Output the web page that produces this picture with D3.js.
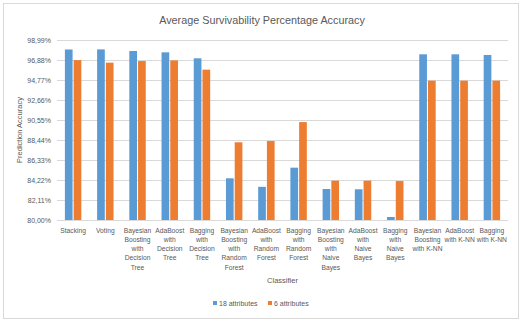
<!DOCTYPE html>
<html>
<head>
<meta charset="UTF-8">
<script src="https://d3js.org/d3.v7.min.js"></script>
<style>
  body { margin: 0; background: #fff; font-family: "Liberation Sans", Arial, sans-serif; }
  svg text { fill: #595959; }
</style>
</head>
<body>
<div id="chart"></div>
<script>
const categories = [
  ["Stacking"],
  ["Voting"],
  ["Bayesian", "Boosting", "with", "Decision", "Tree"],
  ["AdaBoost", "with", "Decision", "Tree"],
  ["Bagging", "with", "Decision", "Tree"],
  ["Bayesian", "Boosting", "with", "Random", "Forest"],
  ["AdaBoost", "with", "Random", "Forest"],
  ["Bagging", "with", "Random", "Forest"],
  ["Bayesian", "Boosting", "with", "Naive", "Bayes"],
  ["AdaBoost", "with", "Naive", "Bayes"],
  ["Bagging", "with", "Naive", "Bayes"],
  ["Bayesian", "Boosting", "with K-NN"],
  ["AdaBoost", "with K-NN"],
  ["Bagging", "with K-NN"]
];
const attr18 = [97.99, 98.0, 97.83, 97.69, 97.06, 84.40, 83.50, 85.52, 83.27, 83.24, 80.32, 97.48, 97.48, 97.41];
const attr6  = [96.87, 96.60, 96.77, 96.84, 95.86, 88.20, 88.33, 90.33, 84.15, 84.15, 84.11, 94.70, 94.70, 94.70];
const yTicks = [80.00, 82.11, 84.22, 86.33, 88.44, 90.55, 92.66, 94.77, 96.88, 98.99];
const seriesNames = ["18 attributes", "6 attributes"];
const colors = ["#5B9BD5", "#ED7D31"];

const width = 524, height = 322;
const margin = { top: 40, right: 16, bottom: 102, left: 57 };

const svg = d3.select("#chart").append("svg")
  .attr("width", width).attr("height", height);

// outer chart border
svg.append("rect")
  .attr("x", 3.5).attr("y", 3.5)
  .attr("width", 515).attr("height", 315)
  .attr("fill", "#fff").attr("stroke", "#d9d9d9");

const x = d3.scaleBand()
  .domain(d3.range(categories.length))
  .range([margin.left, width - margin.right])
  .paddingInner(0.49).paddingOuter(0.245);

const x1 = d3.scaleBand()
  .domain([0, 1])
  .range([0, x.bandwidth()])
  .paddingInner(0.12);

const y = d3.scaleLinear()
  .domain([80, 98.99])
  .range([height - margin.bottom, margin.top]);

const fmt = v => v.toFixed(2).replace(".", ",") + "%";

// gridlines
svg.append("g")
  .selectAll("line")
  .data(yTicks)
  .join("line")
  .attr("x1", margin.left).attr("x2", width - margin.right)
  .attr("y1", d => Math.round(y(d)) + 0.5).attr("y2", d => Math.round(y(d)) + 0.5)
  .attr("stroke", "#d9d9d9").attr("stroke-width", 1);

// y axis labels
const yAxis = svg.append("g")
  .attr("transform", `translate(${margin.left - 6},0)`)
  .call(d3.axisLeft(y).tickValues(yTicks).tickFormat(fmt).tickSize(0).tickPadding(0));
yAxis.select(".domain").remove();
yAxis.selectAll("text")
  .attr("font-size", 7)
  .attr("font-family", "'Liberation Sans', Arial, sans-serif")
  .style("fill", "#595959");

// bars
const groups = svg.append("g")
  .selectAll("g")
  .data(categories.map((c, i) => [attr18[i], attr6[i]]))
  .join("g")
  .attr("transform", (d, i) => `translate(${x(i)},0)`);

groups.selectAll("rect")
  .data(d => d)
  .join("rect")
  .attr("x", (d, j) => x1(j))
  .attr("width", x1.bandwidth())
  .attr("y", d => y(d))
  .attr("height", d => y(80) - y(d))
  .attr("fill", (d, j) => colors[j]);

// category labels
const catG = svg.append("g")
  .selectAll("text")
  .data(categories)
  .join("text")
  .attr("text-anchor", "middle")
  .attr("font-size", 6.7)
  .attr("x", (d, i) => x(i) + x.bandwidth() / 2)
  .attr("y", height - margin.bottom + 12.5);
catG.selectAll("tspan")
  .data(d => d)
  .join("tspan")
  .attr("x", function () { return this.parentNode.getAttribute("x"); })
  .attr("dy", (d, i) => i === 0 ? 0 : 9.33)
  .text(d => d);

// title
svg.append("text")
  .attr("x", 262).attr("y", 24)
  .attr("text-anchor", "middle")
  .attr("font-size", 10.8)
  .text("Average Survivability Percentage Accuracy");

// axis titles
svg.append("text")
  .attr("x", (margin.left + width - margin.right) / 2).attr("y", 283)
  .attr("text-anchor", "middle")
  .attr("font-size", 7.5)
  .text("Classifier");

svg.append("text")
  .attr("transform", `translate(22,${(margin.top + height - margin.bottom) / 2}) rotate(-90)`)
  .attr("text-anchor", "middle")
  .attr("font-size", 7.5)
  .text("Prediction Accuracy");

// legend
const legendX = [213, 268];
const legend = svg.append("g")
  .selectAll("g")
  .data(seriesNames)
  .join("g")
  .attr("transform", (d, i) => `translate(${legendX[i]},305)`);
legend.append("rect")
  .attr("x", 0).attr("y", -4)
  .attr("width", 4).attr("height", 4)
  .attr("fill", (d, i) => colors[i]);
legend.append("text")
  .attr("x", 6).attr("y", 0.5)
  .attr("font-size", 7)
  .text(d => d);
</script>
</body>
</html>
